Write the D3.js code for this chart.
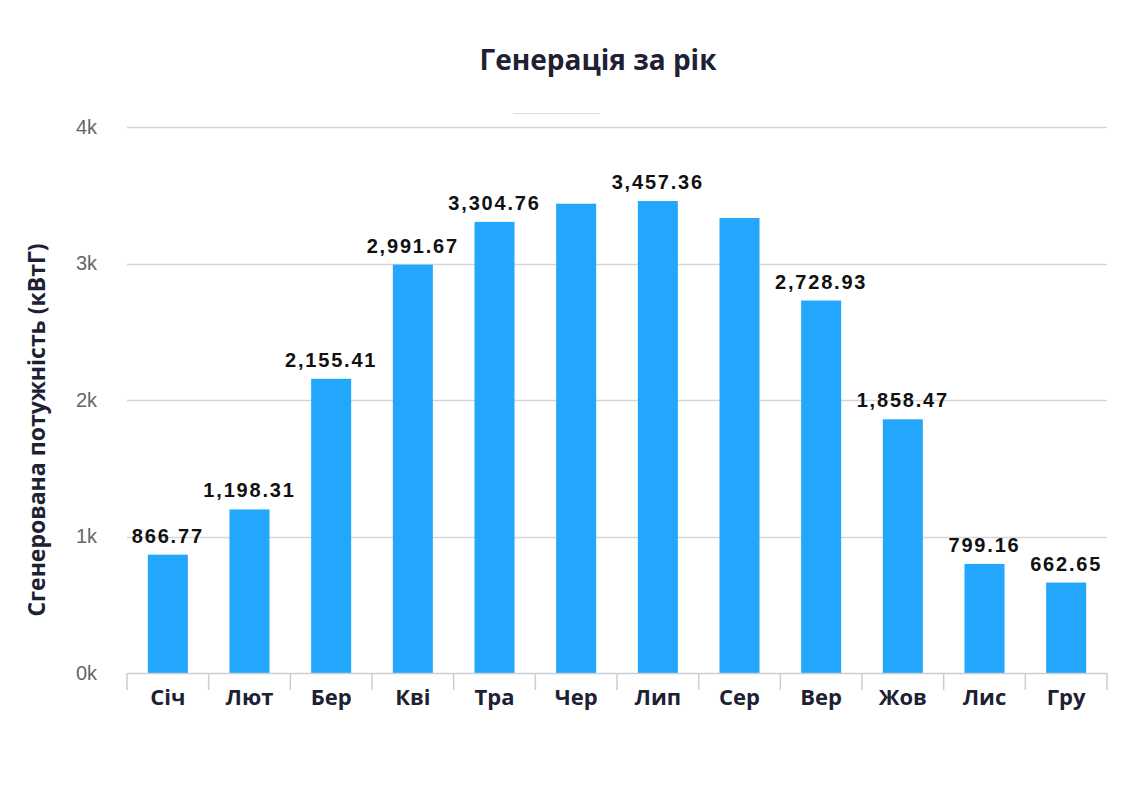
<!DOCTYPE html>
<html>
<head>
<meta charset="utf-8">
<script src="https://cdn.jsdelivr.net/npm/d3@7"></script>
<style>
  body { margin: 0; background: #fff; }
  svg { display: block; }
</style>
</head>
<body>
<svg width="1122" height="800"></svg>
<script>
// chart data
var months = ["Січ", "Лют", "Бер", "Кві", "Тра", "Чер", "Лип", "Сер", "Вер", "Жов", "Лис", "Гру"];
var generated = [866.77, 1198.31, 2155.41, 2991.67, 3304.76, 3438, 3457.36, 3333, 2728.93, 1858.47, 799.16, 662.65];
// which bars show a value label (Чер and Сер are hidden in the original)
var shownLabels = [true, true, true, true, true, false, true, false, true, true, true, true];
var yTicks = [0, 1000, 2000, 3000, 4000];

var svg = d3.select("svg"),
    margin = {top: 127, right: 15, bottom: 127, left: 127},
    width = +svg.attr("width") - margin.left - margin.right,
    height = +svg.attr("height") - margin.top - margin.bottom,
    g = svg.append("g").attr("transform", "translate(" + margin.left + "," + margin.top + ")");

var x = d3.scaleBand()
    .domain(months)
    .range([0, width])
    .paddingInner(0.51)
    .paddingOuter(0.255);

var y = d3.scaleLinear()
    .domain([0, 4000])
    .range([height, 0]);

var fontMain = "'Open Sans', 'Noto Sans', sans-serif";
var navy = "#1d2133";

// title
svg.append("text")
    .attr("x", 598)
    .attr("y", 70)
    .attr("text-anchor", "middle")
    .attr("font-family", fontMain)
    .attr("font-weight", "bold")
    .attr("font-size", 28)
    .attr("fill", navy)
    .text("Генерація за рік");

// little legend stub under the title
svg.append("line")
    .attr("x1", 513).attr("x2", 600)
    .attr("y1", 113.5).attr("y2", 113.5)
    .attr("stroke", "#dcdcdc")
    .attr("stroke-width", 1);

// gridlines
g.append("g")
    .attr("id", "grid")
  .selectAll("line")
  .data(yTicks.slice(1))
  .enter().append("line")
    .attr("x1", 0)
    .attr("x2", width)
    .attr("y1", function(d) { return Math.round(y(d)) + 0.5; })
    .attr("y2", function(d) { return Math.round(y(d)) + 0.5; })
    .attr("stroke", "#d6d6d6")
    .attr("stroke-width", 1.5);

// y axis
var yAxis = g.append("g")
    .attr("id", "yAxis")
    .call(d3.axisLeft(y).tickValues(yTicks).tickSize(0).tickPadding(30)
      .tickFormat(function(d) { return (d / 1000) + "k"; }));
yAxis.select(".domain").remove();
yAxis.selectAll("text")
    .attr("font-family", "'Liberation Sans', Arial, sans-serif")
    .attr("font-size", 20)
    .attr("fill", "#666");

// y axis title
svg.append("text")
    .attr("transform", "translate(45," + (margin.top + height / 2 + 30) + ") rotate(-90)")
    .attr("text-anchor", "middle")
    .attr("font-family", fontMain)
    .attr("font-weight", "bold")
    .attr("font-size", 23)
    .attr("fill", navy)
    .text("Сгенерована потужність (кВтГ)");

// bars
g.append("g")
    .attr("id", "bars")
  .selectAll("rect")
  .data(generated)
  .enter().append("rect")
    .attr("x", function(d, i) { return x(months[i]); })
    .attr("y", function(d) { return y(d); })
    .attr("width", x.bandwidth())
    .attr("height", function(d) { return height - y(d); })
    .attr("fill", "#22a7fc");

// x axis
var xAxis = g.append("g")
    .attr("id", "xAxis")
    .attr("transform", "translate(0," + height + ")")
    .call(d3.axisBottom(x).tickSize(0).tickPadding(16));
xAxis.select(".domain")
    .attr("stroke", "#c8ced8")
    .attr("stroke-width", 1.5);
xAxis.selectAll("text")
    .attr("font-family", fontMain)
    .attr("font-weight", "bold")
    .attr("font-size", 22)
    .attr("fill", navy);

// separators between categories
var bounds = months.map(function(m) { return x(m) - x.step() * x.paddingOuter(); });
bounds.push(width);
xAxis.selectAll(".sep")
  .data(bounds)
  .enter().append("line")
    .attr("class", "sep")
    .attr("x1", function(d) { return d; })
    .attr("x2", function(d) { return d; })
    .attr("y1", 0)
    .attr("y2", 17)
    .attr("stroke", "#c8ced8")
    .attr("stroke-width", 1.5);

// value labels
var fmt = d3.format(",.2f");
var labelData = generated.map(function(v, i) { return {month: months[i], value: v}; })
    .filter(function(d, i) { return shownLabels[i]; });
g.append("g")
    .attr("id", "labels")
  .selectAll("text")
  .data(labelData)
  .enter().append("text")
    .attr("x", function(d) { return x(d.month) + x.bandwidth() / 2; })
    .attr("y", function(d) { return y(d.value) - 12; })
    .attr("text-anchor", "middle")
    .attr("font-family", "'Liberation Sans', Arial, sans-serif")
    .attr("font-weight", "bold")
    .attr("font-size", 20)
    .attr("letter-spacing", 1.8)
    .attr("fill", "#111")
    .text(function(d) { return fmt(d.value); });
</script>
</body>
</html>
